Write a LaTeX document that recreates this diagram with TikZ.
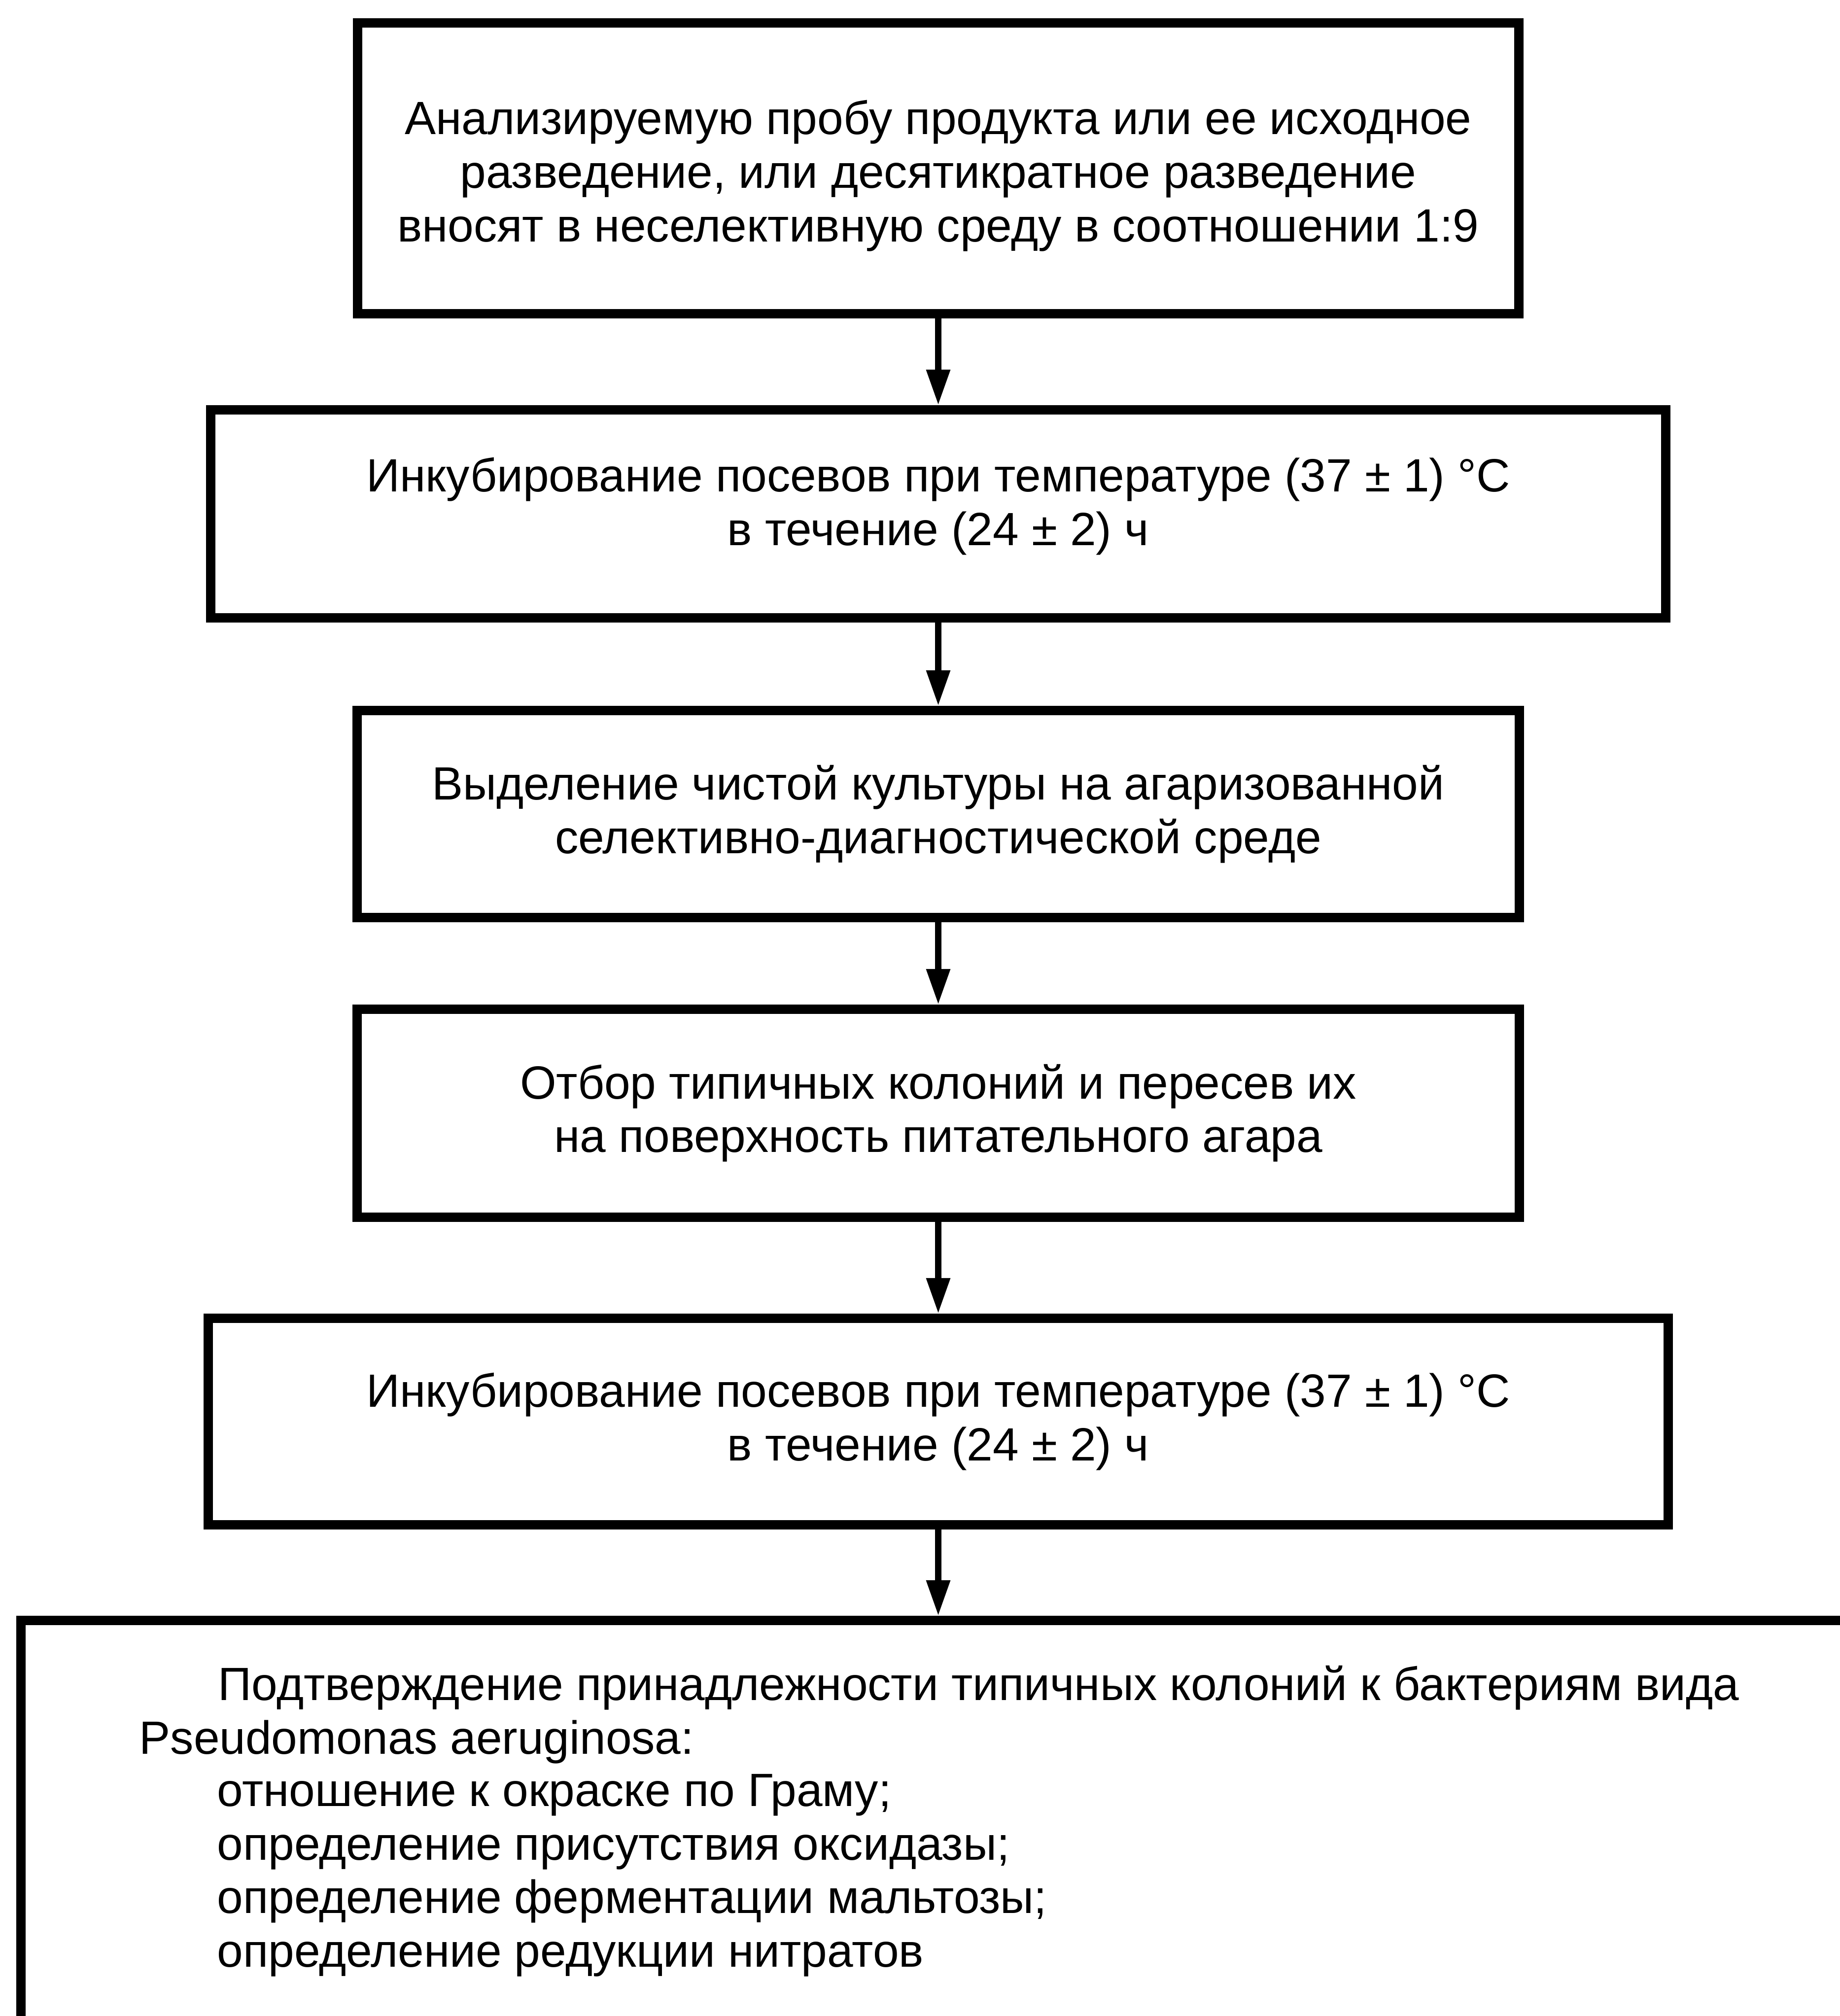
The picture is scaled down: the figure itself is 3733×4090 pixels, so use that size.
\documentclass[tikz,border=0pt]{standalone}
\usepackage{fontspec}
\setmainfont{Liberation Sans}
\usetikzlibrary{arrows.meta}
\begin{document}
\begin{tikzpicture}[x=0.01cm,y=-0.01cm,
  fnt/.style={font=\fontsize{26.9pt}{30.9pt}\selectfont},
  stepbox/.style={draw=black, line width=0.19cm, rectangle, inner sep=0pt},
  boxtext/.style={inner sep=0pt, align=center, fnt},
  flow/.style={line width=0.125cm, -{Triangle[length=0.72cm,width=0.46cm]}},
  txt/.style={inner sep=0pt, anchor=base west, fnt}]
\useasboundingbox (0,0) rectangle (3733,4090);
\fill[white] (0,0) rectangle (3733,4090);

\node[stepbox, minimum width=23.55cm, minimum height=5.895cm] (b1) at (1903.5,341.75) {};
\node[stepbox, minimum width=29.50cm, minimum height=4.215cm] (b2) at (1903.5,1042.25) {};
\node[stepbox, minimum width=23.575cm, minimum height=4.20cm] (b3) at (1903.5,1651.5) {};
\node[stepbox, minimum width=23.57cm, minimum height=4.215cm] (b4) at (1903.5,2258.25) {};
\node[stepbox, minimum width=29.605cm, minimum height=4.185cm] (b5) at (1903.5,2883.75) {};

\node[boxtext] (b1t) at ([yshift=-0.15cm]b1.center)
  {Анализируемую пробу продукта или ее исходное\\разведение, или десятикратное разведение\\вносят в неселективную среду в соотношении 1:9};
\node[boxtext] (b2t) at ([yshift=0.15cm]b2.center)
  {Инкубирование посевов при температуре (37 ± 1) °С\\в течение (24 ± 2) ч};
\node[boxtext] (b3t) at (b3.center)
  {Выделение чистой культуры на агаризованной\\селективно-диагностической среде};
\node[boxtext] (b4t) at (b4.center)
  {Отбор типичных колоний и пересев их\\на поверхность питательного агара};
\node[boxtext] (b5t) at (b5.center)
  {Инкубирование посевов при температуре (37 ± 1) °С\\в течение (24 ± 2) ч};

\begin{scope}
  \clip (0,0) rectangle (3733,4090);
  \node[stepbox, minimum width=38cm, minimum height=10cm, anchor=north west] (b6) at (33,3278) {};
\end{scope}

\node[txt] (t1) at (442,3449) {Подтверждение принадлежности типичных колоний к бактериям вида};
\node[txt] (t2) at (282,3558) {Pseudomonas aeruginosa:};
\node[txt] (t3) at (440,3664) {отношение к окраске по Граму;};
\node[txt] (t4) at (440,3773) {определение присутствия оксидазы;};
\node[txt] (t5) at (440,3881) {определение ферментации мальтозы;};
\node[txt] (t6) at (440,3990) {определение редукции нитратов};

\draw[flow] (b1.south) -- (b2.north);
\draw[flow] (b2.south) -- (b3.north);
\draw[flow] (b3.south) -- (b4.north);
\draw[flow] (b4.south) -- (b5.north);
\draw[flow] (b5.south) -- (b5.south |- b6.north);
\end{tikzpicture}
\end{document}
